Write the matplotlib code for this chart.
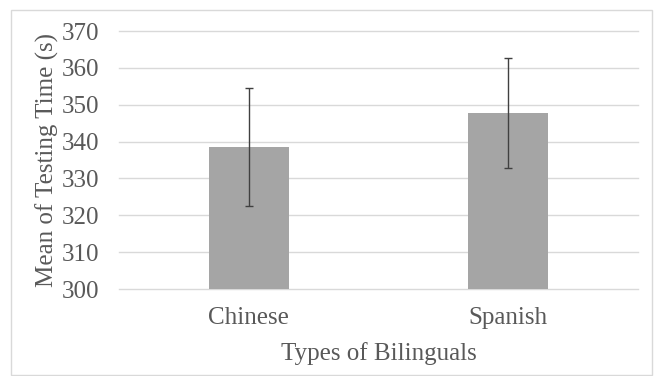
import numpy as np
import matplotlib
matplotlib.use("Agg")
import matplotlib.pyplot as plt
from matplotlib.patches import Rectangle

# ----- data -----
groups = ["Chinese", "Spanish"]
mean_time = [338.5, 347.8]
err_time = [16.1, 14.9]

plt.rcParams["font.family"] = ["Liberation Serif", "DejaVu Serif"]
txt = "#595959"

fig = plt.figure(figsize=(6.54, 3.76), dpi=100)
ax = fig.add_axes([119 / 654, 1 - 289 / 376, (638 - 119) / 654, (289 - 31) / 376])

x = np.arange(len(groups))
ax.bar(x, mean_time, width=0.31, color="#a5a5a5", zorder=2)
ax.errorbar(x, mean_time, yerr=err_time, fmt="none", ecolor="#404040",
            elinewidth=1.0, capsize=3, capthick=1.0, zorder=3)

ax.set_xlim(-0.5, 1.5)
ax.set_ylim(300, 370)
ax.set_yticks(np.arange(300, 371, 10))
ax.set_xticks(x)
ax.set_xticklabels(groups)
ax.grid(axis="y", color="#d9d9d9", lw=1.0, zorder=0)
ax.set_axisbelow(True)
for gl in ax.get_ygridlines():
    gl.set_clip_on(False)   # keep the 300/370 lines whole at the edges
for s in ax.spines.values():
    s.set_visible(False)
ax.tick_params(length=0, labelsize=18, colors=txt)
ax.tick_params(axis="x", pad=13)
ax.tick_params(axis="y", pad=14)

ax.set_ylabel("Mean of Testing Time (s)", fontsize=18, color=txt, labelpad=2)
ax.set_xlabel("Types of Bilinguals", fontsize=18, color=txt, labelpad=9)

# outer chart frame
fig.patches.append(Rectangle((11 / 654, 1 / 376), 641 / 654, (376 - 11) / 376,
                             transform=fig.transFigure, fill=False,
                             edgecolor="#d9d9d9", lw=1.0))

fig.savefig("out.png", dpi=100)
